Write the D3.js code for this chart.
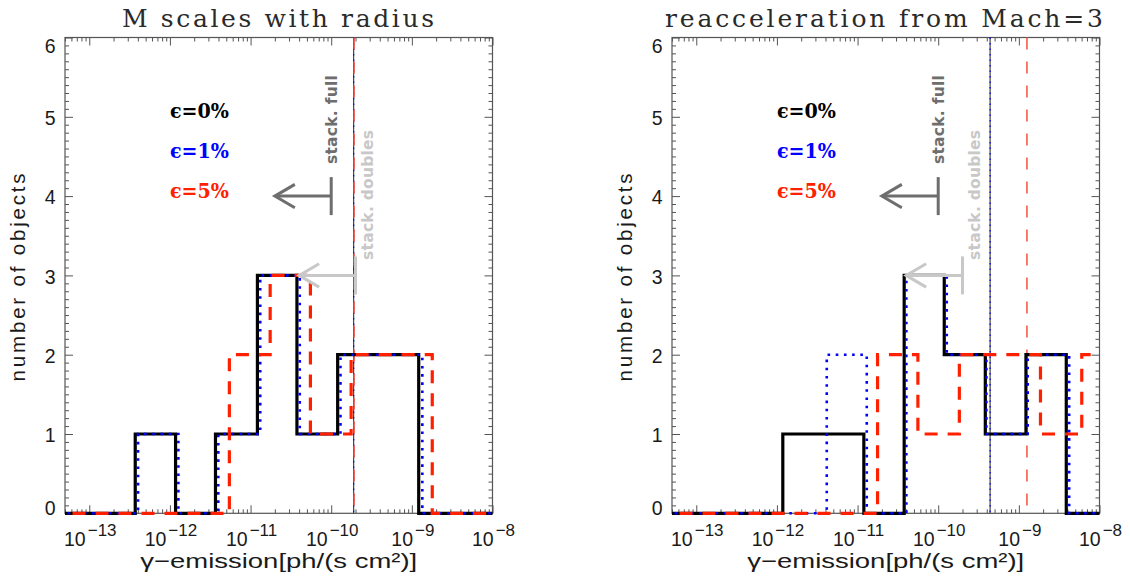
<!DOCTYPE html>
<html>
<head>
<meta charset="utf-8">
<script src="https://cdn.jsdelivr.net/npm/d3@7"></script>
<style>
  body { margin: 0; background: #fff; }
  svg { display: block; }
</style>
</head>
<body>
<svg id="chart" width="1130" height="585"></svg>
<script>
// ---------------- DATA ----------------
const panelTitles = ["M scales with radius", "reacceleration from Mach=3"];
const seriesNames = ["\u03f5=0%", "\u03f5=1%", "\u03f5=5%"];
const seriesColors = ["#000000", "#0000ff", "#ff2000"];
const xTickExponents = [-13, -12, -11, -10, -9, -8];
const yTickValues = [0, 1, 2, 3, 4, 5, 6];
const xDomain = [5e-14, 1e-8];
const yDomain = [0, 6];
const xAxisTitle = "\u03b3\u2212emission[ph/(s cm\u00b2)]";
const yAxisTitle = "number of objects";

// histogram bin edges (log10 of flux) and counts
const leftBlackEdges  = [-12.43, -11.93, -11.435, -10.915, -10.425, -9.92, -9.42, -8.915];
const leftBlackCounts = [1, 0, 1, 3, 1, 2, 2];
const leftBlueEdges   = [-12.395, -11.895, -11.40, -10.88, -10.39, -9.885, -9.385, -8.87];
const leftBlueCounts  = [1, 0, 1, 3, 1, 2, 2];
const leftRedEdges    = [-11.263, -10.757, -10.258, -9.753, -9.25, -8.747];
const leftRedCounts   = [2, 3, 1, 2, 2];

const rightBlackEdges  = [-11.927, -11.425, -10.922, -10.422, -9.925, -9.416, -8.912, -8.412];
const rightBlackCounts = [1, 1, 0, 3, 2, 1, 2];
const rightBlueEdges   = [-11.382, -10.886, -10.395, -9.894, -9.403, -8.89, -8.376];
const rightBlueCounts  = [2, 0, 3, 2, 1, 2];
const rightRedEdges    = [-10.752, -10.252, -9.738, -9.235, -8.732, -8.22, -7.72];
const rightRedCounts   = [2, 1, 2, 2, 1, 2];

// thin vertical lines (flux) for eps = 0%, 1%, 5%
const leftLimitLines  = [1.90e-10, 1.90e-10, 1.92e-10];
const rightLimitLines = [4.4e-10, 4.4e-10, 1.26e-9];

// stacking upper limits: flux, number of objects, label
const stackFull    = { flux: 1e-10, count: 4, label: "stack. full" };
const stackDoubles = { flux: 2e-10, count: 3, label: "stack. doubles" };

// ---------------- LAYOUT ----------------
const svg = d3.select("#chart");
const panelX0 = [65, 672];
const panelW = 427.5;
const plotTop = 37.5, plotBottom = 513.3;
const axisColor = "#555";
const textColor = "#1a1a1a";

const panels = [
  { title: panelTitles[0], titleLen: 312, titleCx: 278,
    edges: [leftBlackEdges, leftBlueEdges, leftRedEdges],
    counts: [leftBlackCounts, leftBlueCounts, leftRedCounts],
    limits: leftLimitLines },
  { title: panelTitles[1], titleLen: 438, titleCx: 884,
    edges: [rightBlackEdges, rightBlueEdges, rightRedEdges],
    counts: [rightBlackCounts, rightBlueCounts, rightRedCounts],
    limits: rightLimitLines }
];

const defs = svg.append("defs");

panels.forEach((p, pi) => {
  const x0 = panelX0[pi], x1 = x0 + panelW;
  const x = d3.scaleLog().domain(xDomain).range([x0, x1]);
  const y = d3.scaleLinear().domain(yDomain).range([plotBottom, plotTop]);
  const g = svg.append("g");
  const cx = (x0 + x1) / 2;

  const clipId = "clip" + pi;
  defs.append("clipPath").attr("id", clipId).append("rect")
    .attr("x", x0).attr("y", plotTop - 4)
    .attr("width", panelW).attr("height", plotBottom - plotTop + 8);

  // ---- axes ----
  const xMajor = xTickExponents.map(e => Math.pow(10, e));
  const xMinor = [];
  for (let d = -14; d <= -9; d++) for (let k = 2; k <= 9; k++) {
    const v = k * Math.pow(10, d);
    if (v >= xDomain[0] && v <= xDomain[1]) xMinor.push(v);
  }
  const yMinor = d3.range(1, 60).filter(i => i % 10 !== 0).map(i => i / 10);

  const axes = [
    [d3.axisBottom(x).tickValues(xMajor).tickSize(-8), `translate(0,${plotBottom})`],
    [d3.axisBottom(x).tickValues(xMinor).tickSize(-4), `translate(0,${plotBottom})`],
    [d3.axisTop(x).tickValues(xMajor).tickSize(-8), `translate(0,${plotTop})`],
    [d3.axisTop(x).tickValues(xMinor).tickSize(-4), `translate(0,${plotTop})`],
    [d3.axisLeft(y).tickValues(yTickValues).tickSize(-8), `translate(${x0},0)`],
    [d3.axisLeft(y).tickValues(yMinor).tickSize(-4), `translate(${x0},0)`],
    [d3.axisRight(y).tickValues(yTickValues).tickSize(-8), `translate(${x1},0)`],
    [d3.axisRight(y).tickValues(yMinor).tickSize(-4), `translate(${x1},0)`]
  ];
  axes.forEach(([ax, tr]) => {
    const a = g.append("g").attr("transform", tr)
      .call(ax.tickFormat("").tickSizeOuter(0));
    a.select(".domain").remove();
    a.selectAll(".tick line").attr("stroke", axisColor).attr("stroke-width", 1);
  });
  g.append("rect").attr("x", x0).attr("y", plotTop)
    .attr("width", panelW).attr("height", plotBottom - plotTop)
    .attr("fill", "none").attr("stroke", axisColor).attr("stroke-width", 1.2);

  // y tick labels
  g.selectAll(".ylab").data(yTickValues).enter().append("text")
    .attr("x", x0 - 9.5)
    .attr("y", d => {
      if (d === yDomain[0]) return y(d) + 1.7;
      if (d === yDomain[1]) return y(d) + 15.8;
      return y(d) + 8.2;
    })
    .attr("text-anchor", "end")
    .attr("font-family", "Liberation Sans, Arial, sans-serif")
    .attr("font-size", 19.5).attr("fill", textColor)
    .text(d => d);

  // x tick labels
  xTickExponents.forEach(e => {
    const t = g.append("text")
      .attr("x", x(Math.pow(10, e)) + 1).attr("y", 545.5)
      .attr("text-anchor", "middle")
      .attr("font-family", "Liberation Sans, Arial, sans-serif")
      .attr("fill", textColor);
    t.append("tspan").attr("font-size", 19.5).text("10");
    t.append("tspan").attr("font-size", 17).attr("dy", -9.5).attr("dx", 2)
      .text("\u2212" + Math.abs(e));
  });

  // axis titles
  g.append("text").attr("x", cx).attr("y", 568)
    .attr("text-anchor", "middle")
    .attr("font-family", "Liberation Sans, Arial, sans-serif")
    .attr("font-size", 20.5).attr("fill", textColor)
    .attr("textLength", 277).attr("lengthAdjust", "spacingAndGlyphs")
    .text(xAxisTitle);
  g.append("text")
    .attr("transform", `translate(${x0 - 40},${(plotTop + plotBottom) / 2 + 2}) rotate(-90)`)
    .attr("text-anchor", "middle")
    .attr("font-family", "Liberation Sans, Arial, sans-serif")
    .attr("font-size", 20.5).attr("fill", textColor)
    .attr("textLength", 208).attr("lengthAdjust", "spacing")
    .text(yAxisTitle);

  // panel title
  g.append("text").attr("x", p.titleCx).attr("y", 27)
    .attr("text-anchor", "middle")
    .attr("font-family", "DejaVu Serif, serif")
    .attr("font-size", 25).attr("fill", "#2a2a2a")
    .attr("textLength", p.titleLen).attr("lengthAdjust", "spacing")
    .text(p.title);

  const plot = g.append("g").attr("clip-path", `url(#${clipId})`);

  // ---- thin vertical limit lines ----
  const thinStyles = [
    { color: "#222", w: 1, dash: null },
    { color: "#0000ff", w: 1.2, dash: "1.5,4" },
    { color: "#f5503f", w: 1.5, dash: "12,12" }
  ];
  p.limits.forEach((v, i) => {
    plot.append("line")
      .attr("x1", x(v)).attr("x2", x(v))
      .attr("y1", plotTop).attr("y2", plotBottom)
      .attr("stroke", thinStyles[i].color)
      .attr("stroke-width", thinStyles[i].w)
      .attr("stroke-dasharray", thinStyles[i].dash);
  });

  // ---- histograms ----
  const styles = [
    { w: 3.2, dash: null },
    { w: 2.6, dash: "2.6,5.6" },
    { w: 3.2, dash: "13,10" }
  ];
  const line = d3.line().x(d => x(d.f)).y(d => y(d.c)).curve(d3.curveStepAfter);
  p.edges.forEach((edges, i) => {
    const counts = p.counts[i];
    const pts = [{ f: xDomain[0] / 3, c: 0 }];
    edges.forEach((e, k) => pts.push({ f: Math.pow(10, e), c: k < counts.length ? counts[k] : 0 }));
    pts.push({ f: xDomain[1] * 3, c: 0 });
    plot.append("path").attr("d", line(pts))
      .attr("fill", "none")
      .attr("stroke", seriesColors[i])
      .attr("stroke-width", styles[i].w)
      .attr("stroke-dasharray", styles[i].dash)
      .attr("stroke-linejoin", "miter");
  });

  // ---- stacking upper-limit arrows ----
  [[stackFull, "#6e6e6e", 5.5, 32], [stackDoubles, "#c8c8c8", 17.4, 15.5]].forEach(([s, col, dx, dyText]) => {
    const xs = x(s.flux), ys = y(s.count), xt = x(s.flux / 5);
    const a = g.append("g").attr("stroke", col).attr("stroke-width", 3).attr("fill", "none");
    a.append("line").attr("x1", xs).attr("x2", xs).attr("y1", ys - 19).attr("y2", ys + 19);
    a.append("line").attr("x1", xs).attr("x2", xt).attr("y1", ys).attr("y2", ys);
    a.append("polyline").attr("points", `${xt + 20},${ys - 11.7} ${xt},${ys} ${xt + 20},${ys + 11.7}`);
    g.append("text")
      .attr("transform", `translate(${xs + dx},${ys - dyText}) rotate(-90)`)
      .attr("text-anchor", "start")
      .attr("font-family", "DejaVu Sans, sans-serif")
      .attr("font-weight", "bold").attr("font-size", 15.5)
      .attr("fill", col)
      .attr("textLength", s === stackFull ? 89 : 130).attr("lengthAdjust", "spacing")
      .text(s.label);
  });

  // ---- legend ----
  const legendY = [5, 4.5, 4];
  seriesNames.forEach((n, i) => {
    g.append("text").attr("x", x0 + 105).attr("y", y(legendY[i]) + 1.5)
      .attr("font-family", "DejaVu Serif, serif")
      .attr("font-weight", "bold").attr("font-size", 20.5)
      .attr("fill", seriesColors[i])
      .attr("textLength", 59).attr("lengthAdjust", "spacingAndGlyphs")
      .text(n);
  });
});
</script>
</body>
</html>
